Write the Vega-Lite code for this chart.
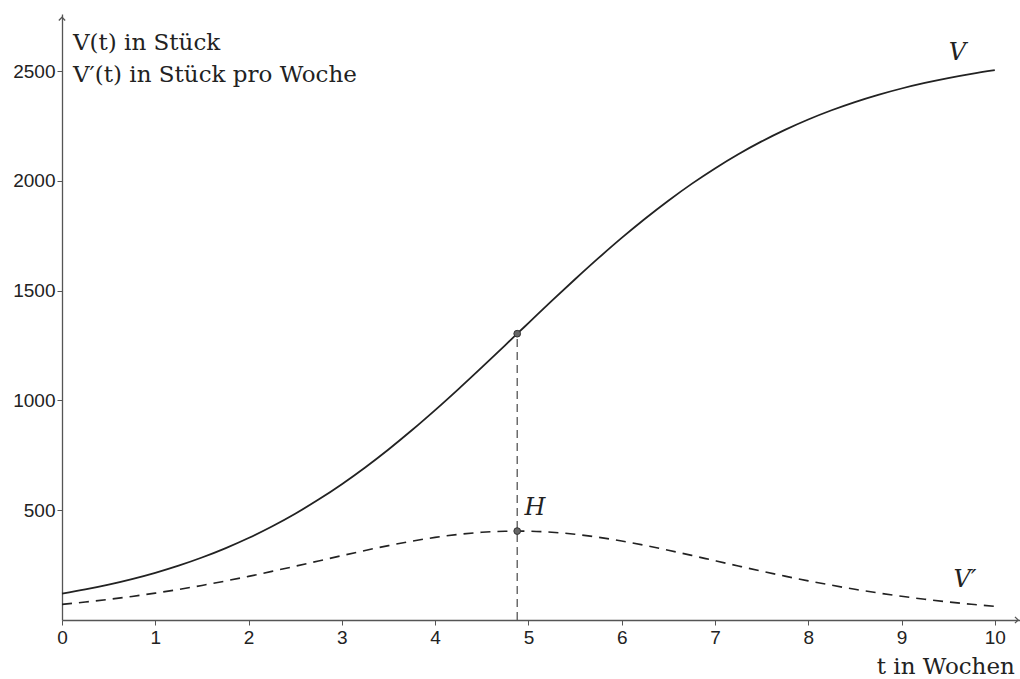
{
  "$schema": "https://vega.github.io/schema/vega-lite/v6.json",
  "width": 958,
  "height": 606,
  "autosize": {"type": "none"},
  "padding": {"left": 62, "top": 14, "right": 0, "bottom": 59},
  "background": "white",
  "config": {"view": {"stroke": null}},
  "datasets": {
    "curve": [
      {"t": 0, "V": 120.0, "Vp": 71.1},
      {"t": 0.25, "V": 139.1, "Vp": 81.8},
      {"t": 0.5, "V": 161.0, "Vp": 93.8},
      {"t": 0.75, "V": 186.2, "Vp": 107.4},
      {"t": 1, "V": 214.9, "Vp": 122.5},
      {"t": 1.25, "V": 247.5, "Vp": 139.2},
      {"t": 1.5, "V": 284.6, "Vp": 157.5},
      {"t": 1.75, "V": 326.4, "Vp": 177.4},
      {"t": 2, "V": 373.4, "Vp": 198.7},
      {"t": 2.25, "V": 425.9, "Vp": 221.4},
      {"t": 2.5, "V": 484.1, "Vp": 244.9},
      {"t": 2.75, "V": 548.4, "Vp": 269.0},
      {"t": 3, "V": 618.7, "Vp": 293.2},
      {"t": 3.25, "V": 694.9, "Vp": 316.7},
      {"t": 3.5, "V": 776.8, "Vp": 338.8},
      {"t": 3.75, "V": 864.1, "Vp": 358.9},
      {"t": 4, "V": 956.1, "Vp": 376.2},
      {"t": 4.25, "V": 1051.9, "Vp": 389.9},
      {"t": 4.5, "V": 1150.6, "Vp": 399.4},
      {"t": 4.75, "V": 1251.2, "Vp": 404.3},
      {"t": 4.88, "V": 1304.0, "Vp": 405.0},
      {"t": 5, "V": 1352.3, "Vp": 404.5},
      {"t": 5.25, "V": 1453.1, "Vp": 399.7},
      {"t": 5.5, "V": 1551.8, "Vp": 390.4},
      {"t": 5.75, "V": 1647.8, "Vp": 376.9},
      {"t": 6, "V": 1740.1, "Vp": 359.7},
      {"t": 6.25, "V": 1827.5, "Vp": 339.8},
      {"t": 6.5, "V": 1909.6, "Vp": 317.7},
      {"t": 6.75, "V": 1986.3, "Vp": 294.2},
      {"t": 7, "V": 2056.8, "Vp": 270.0},
      {"t": 7.25, "V": 2121.2, "Vp": 246.0},
      {"t": 7.5, "V": 2179.7, "Vp": 222.3},
      {"t": 7.75, "V": 2232.4, "Vp": 199.7},
      {"t": 8, "V": 2279.6, "Vp": 178.3},
      {"t": 8.25, "V": 2321.7, "Vp": 158.4},
      {"t": 8.5, "V": 2358.9, "Vp": 139.9},
      {"t": 8.75, "V": 2391.8, "Vp": 123.2},
      {"t": 9, "V": 2420.7, "Vp": 108.0},
      {"t": 9.25, "V": 2445.9, "Vp": 94.5},
      {"t": 9.5, "V": 2468.0, "Vp": 82.3},
      {"t": 9.75, "V": 2487.2, "Vp": 71.5},
      {"t": 10, "V": 2503.9, "Vp": 62.1}
    ],
    "marker": [
      {"t": 4.88, "y": 1304},
      {"t": 4.88, "y": 405}
    ],
    "vline": [
      {"t": 4.88, "y0": 0, "y1": 1304}
    ],
    "labels": [
      {"t": 9.6, "y": 2582, "label": "V"},
      {"t": 9.68, "y": 182, "label": "V′"},
      {"t": 5.07, "y": 510, "label": "H"}
    ],
    "ytitle": [
      {"t": 0.118, "y": 2627, "label": "V(t) in Stück"},
      {"t": 0.118, "y": 2482, "label": "V′(t) in Stück pro Woche"}
    ],
    "xtitle": [
      {"t": 10.215, "y": -214, "label": "t in Wochen"}
    ],
    "arrowY": [{"t": 0, "y": 2745}],
    "arrowX": [{"t": 10.25, "y": 0}]
  },
  "layer": [
    {
      "data": {"name": "vline"},
      "mark": {"type": "rule", "color": "#555", "strokeWidth": 1.3, "strokeDash": [8, 5]},
      "encoding": {
        "x": {"field": "t", "type": "quantitative", "scale": {"domain": [0, 10.27], "nice": false, "zero": false},
          "axis": {
            "values": [0, 1, 2, 3, 4, 5, 6, 7, 8, 9, 10],
            "format": "d",
            "labelFlush": false,
            "grid": false,
            "domainColor": "#555",
            "domainWidth": 1.3,
            "tickColor": "#555",
            "tickSize": 5,
            "labelFont": "Liberation Sans",
            "labelFontSize": 19,
            "labelColor": "#222",
            "labelPadding": 3,
            "title": null
          }
        },
        "y": {"field": "y0", "type": "quantitative", "scale": {"domain": [0, 2760], "nice": false},
          "axis": {
            "values": [500, 1000, 1500, 2000, 2500],
            "format": "d",
            "labelFlush": false,
            "grid": false,
            "domainColor": "#555",
            "domainWidth": 1.3,
            "tickColor": "#555",
            "tickSize": 5,
            "labelFont": "Liberation Sans",
            "labelFontSize": 19,
            "labelColor": "#222",
            "labelPadding": 2,
            "title": null
          }
        },
        "y2": {"field": "y1"}
      }
    },
    {
      "data": {"name": "curve"},
      "mark": {"type": "line", "color": "#222", "strokeWidth": 1.8, "interpolate": "monotone"},
      "encoding": {
        "x": {"field": "t", "type": "quantitative"},
        "y": {"field": "V", "type": "quantitative"}
      }
    },
    {
      "data": {"name": "curve"},
      "mark": {"type": "line", "color": "#222", "strokeWidth": 1.6, "strokeDash": [10, 7], "interpolate": "monotone"},
      "encoding": {
        "x": {"field": "t", "type": "quantitative"},
        "y": {"field": "Vp", "type": "quantitative"}
      }
    },
    {
      "data": {"name": "marker"},
      "mark": {"type": "point", "filled": true, "color": "#666", "stroke": "#333", "strokeWidth": 1, "size": 45, "opacity": 1},
      "encoding": {
        "x": {"field": "t", "type": "quantitative"},
        "y": {"field": "y", "type": "quantitative"}
      }
    },
    {
      "data": {"name": "labels"},
      "mark": {"type": "text", "font": "DejaVu Serif", "fontStyle": "italic", "fontSize": 24, "color": "#222", "align": "center", "baseline": "middle"},
      "encoding": {
        "x": {"field": "t", "type": "quantitative"},
        "y": {"field": "y", "type": "quantitative"},
        "text": {"field": "label"}
      }
    },
    {
      "data": {"name": "ytitle"},
      "mark": {"type": "text", "font": "DejaVu Serif", "fontSize": 23, "color": "#222", "align": "left", "baseline": "middle"},
      "encoding": {
        "x": {"field": "t", "type": "quantitative"},
        "y": {"field": "y", "type": "quantitative"},
        "text": {"field": "label"}
      }
    },
    {
      "data": {"name": "xtitle"},
      "mark": {"type": "text", "font": "DejaVu Serif", "fontSize": 23, "color": "#222", "align": "right", "baseline": "middle"},
      "encoding": {
        "x": {"field": "t", "type": "quantitative"},
        "y": {"field": "y", "type": "quantitative"},
        "text": {"field": "label"}
      }
    },
    {
      "data": {"name": "arrowY"},
      "mark": {"type": "point", "shape": "M-1,1L0,0L1,1", "filled": false, "stroke": "#555", "strokeWidth": 1.3, "size": 40, "opacity": 1},
      "encoding": {
        "x": {"field": "t", "type": "quantitative"},
        "y": {"field": "y", "type": "quantitative"}
      }
    },
    {
      "data": {"name": "arrowX"},
      "mark": {"type": "point", "shape": "M-1,-1L0,0L-1,1", "filled": false, "stroke": "#555", "strokeWidth": 1.3, "size": 40, "opacity": 1},
      "encoding": {
        "x": {"field": "t", "type": "quantitative"},
        "y": {"field": "y", "type": "quantitative"}
      }
    }
  ]
}
